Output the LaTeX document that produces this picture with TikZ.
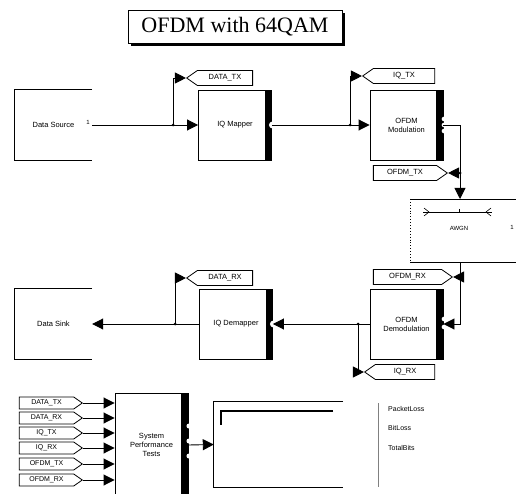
\documentclass[tikz,border=0pt]{standalone}
\usepackage{fontspec}
\setmainfont{Liberation Serif}
\setsansfont{Liberation Sans}
\usetikzlibrary{shapes.symbols,arrows.meta,calc}
\tikzset{
 blk/.style={draw, line width=0.9pt, minimum width=73pt, minimum height=70pt, inner sep=0pt, align=center, font=\sffamily\fontsize{7.5}{9}\selectfont},
 openblk/.style={minimum width=77pt, minimum height=70pt, inner sep=0pt, font=\sffamily\fontsize{7.5}{9}\selectfont},
 tag/.style={draw, signal, signal pointer angle=70, line width=0.8pt, minimum height=15pt, inner sep=1pt, font=\sffamily\fontsize{7.5}{8}\selectfont},
 ftag/.style={tag, signal to=east, minimum width=63pt, minimum height=12pt, font=\sffamily\fontsize{7}{8}\selectfont},
 conn/.style={line width=0.9pt, -{Triangle[length=11pt,width=11pt]}},
 wire/.style={line width=0.9pt},
 jdot/.style={circle, fill, inner sep=0pt, minimum size=3pt},
 bracket/.style={line width=1.1pt},
 lbl/.style={font=\sffamily\fontsize{7}{8}\selectfont, inner sep=0pt},
}
\begin{document}
\begin{tikzpicture}[x=1pt,y=-1pt]
\useasboundingbox (0,0) rectangle (516,494);
% title
\fill (131,13) rectangle (345,46);
\node[draw, line width=0.8pt, fill=white, minimum width=214pt, minimum height=33pt, inner sep=0pt, font=\fontsize{22}{24}\selectfont] (title) at (235,26.5) {OFDM with 64QAM};

% top row
\node[openblk] (src) at (53.5,125) {Data Source};
\draw[bracket] (src.north east) -- (src.north west) -- (src.south west) -- (src.south east);
\node[lbl, font=\sffamily\fontsize{6}{7}\selectfont] (srcp) at (88,122) {1};

\node[blk] (map) at (235,125) {IQ Mapper};
\fill ($(map.north east)+(-7,0)$) rectangle (map.south east);
\fill[white] ($(map.east)+(0.5,0)$) circle (3.5);

\node[blk] (mod) at (406.5,125) {OFDM\\Modulation};
\fill ($(mod.north east)+(-7,0)$) rectangle (mod.south east);
\foreach \dy in {-6,0,6} \fill[white] ($(mod.east)+(0.5,\dy)$) circle (2.3);

\node[tag, signal to=west, minimum width=66pt] (dtx) at (225,78) {DATA\_TX};
\node[tag, signal to=west, minimum width=72pt] (iqtx) at (404,76) {IQ\_TX};
\node[tag, signal to=east, minimum width=74pt] (otx) at (405,173) {OFDM\_TX};

% channel
\draw[line width=0.9pt] (516,199) -- (410,199);
\draw[line width=0.9pt, dotted] (410,199) -- (410,262);
\draw[line width=0.9pt] (410,262) -- (516,262);
\coordinate (chn) at (460,199);
\coordinate (chs) at (460,262);
\draw[line width=0.6pt] (423,212) -- (492,212);
\draw[line width=0.6pt] (424,208) -- (429,212) -- (424,216);
\draw[line width=0.6pt] (491,208) -- (486,212) -- (491,216);
\draw[line width=0.6pt] (459,209) -- (459,212);
\node[lbl, font=\sffamily\fontsize{6}{7}\selectfont] (awgn) at (459,228) {AWGN};
\node[lbl, font=\sffamily\fontsize{6}{7}\selectfont] (chp) at (512,227) {1};

% middle row
\node[openblk] (sink) at (53.5,324) {Data Sink};
\draw[bracket] (sink.north east) -- (sink.north west) -- (sink.south west) -- (sink.south east);
\node[blk] (demap) at (236,324) {IQ Demapper};
\fill ($(demap.north east)+(-7,0)$) rectangle (demap.south east);
\fill[white] ($(demap.east)+(0.5,0)$) circle (3.5);
\node[blk] (demod) at (406.5,324) {OFDM\\Demodulation};
\fill ($(demod.north east)+(-7,0)$) rectangle (demod.south east);
\foreach \dy in {-5,3} \fill[white] ($(demod.east)+(0.5,\dy)$) circle (2.3);

\node[tag, signal to=west, minimum width=66pt] (drx) at (225,278) {DATA\_RX};
\node[tag, signal to=east, minimum width=79pt] (orx) at (407.5,277) {OFDM\_RX};
\node[tag, signal to=west, minimum width=70pt] (iqrx) at (405,372) {IQ\_RX};

% connectors top row
\draw[conn] (src.east) -- (map.west);
\node[jdot] (j1) at (173,125) {};
\draw[conn] (j1.center) |- (dtx.west);
\draw[conn] (map.east) -- (mod.west);
\node[jdot] (j2) at (350,125) {};
\draw[conn] (j2.center) |- (iqtx.west);
\draw[conn] (mod.east) -| (chn);
\node[jdot] (j3) at (460,173) {};
\draw[conn] (j3.center) -- (otx.east);

% connectors middle row
\node[jdot] (j4) at (460,277) {};
\draw[wire] (chs) -- (j4.center);
\draw[conn] (j4.center) |- (demod.east);
\draw[conn] (j4.center) -- (orx.east);
\draw[conn] (demod.west) -- (demap.east);
\node[jdot] (j5) at (358,324) {};
\draw[conn] (j5.center) |- (iqrx.west);
\draw[conn] (demap.west) -- (sink.east);
\node[jdot] (j6) at (175,324) {};
\draw[conn] (j6.center) |- (drx.west);

% bottom row
\node[blk, minimum width=73pt, minimum height=104pt] (perf) at (151.5,445) {System\\Performance\\Tests};
\fill ($(perf.north east)+(-7,0)$) rectangle (perf.south east);
\foreach \yy in {426,441,456} \fill[white] ($(perf.east |- 0,\yy)+(0.5,0)$) circle (2.5);

\node[ftag] (f1) at (46.5,403) {DATA\_TX};
\node[ftag] (f2) at (46.5,418) {DATA\_RX};
\node[ftag] (f3) at (46.5,433) {IQ\_TX};
\node[ftag] (f4) at (46.5,448) {IQ\_RX};
\node[ftag] (f5) at (46.5,464) {OFDM\_TX};
\node[ftag] (f6) at (46.5,480) {OFDM\_RX};
\foreach \f in {f1,f2,f3,f4,f5,f6} \draw[conn] (\f.east) -- (\f.east -| perf.west);

\node[minimum width=129pt, minimum height=85pt, inner sep=0pt] (disp) at (278.5,444.5) {};
\draw[bracket] (disp.north east) -- (disp.north west) -- (disp.south west) -- (disp.south east);
\draw[bracket] (333,411) -- (221,411) -- (221,425);
\draw[conn] (perf.east) -- (disp.west);

\draw[line width=0.6pt, gray] (378,403) -- (378,487);
\node[lbl, anchor=west] (pl) at (388,409) {PacketLoss};
\node[lbl, anchor=west] (bl) at (388,428) {BitLoss};
\node[lbl, anchor=west] (tb) at (388,448) {TotalBits};
\end{tikzpicture}
\end{document}
